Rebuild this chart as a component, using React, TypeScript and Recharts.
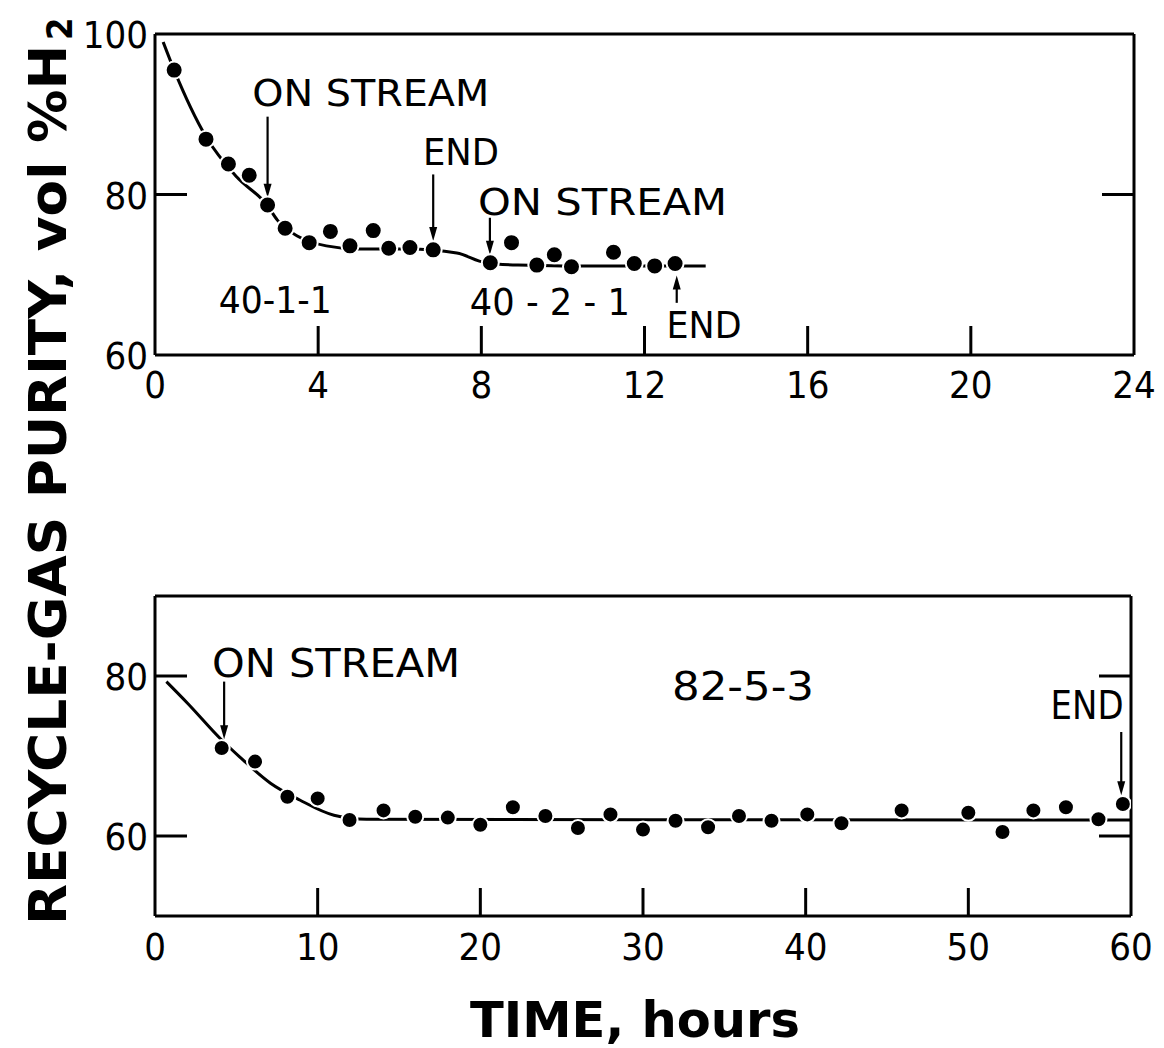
import React from "react"
import { ComposedChart, Line, Scatter, XAxis, YAxis, ReferenceLine, ReferenceDot } from "recharts"

const FONT = "'DejaVu Sans Condensed', 'DejaVu Sans', 'Liberation Sans', sans-serif"

// upper panel: runs 40-1-1 and 40-2-1 (hours, vol % H2)
const topTimes = [0.47, 1.25, 1.8, 2.31, 2.76, 3.19, 3.78, 4.3, 4.78, 5.35, 5.73, 6.25, 6.82, 8.22, 8.74, 9.36, 9.79, 10.21, 11.24, 11.75, 12.25, 12.75]
const topPurity = [95.5, 86.9, 83.8, 82.4, 78.7, 75.8, 74.0, 75.4, 73.6, 75.5, 73.3, 73.4, 73.1, 71.5, 74.0, 71.2, 72.5, 71.0, 72.8, 71.4, 71.1, 71.4]
const topFitTimes = [0.2, 0.47, 1.25, 2.0, 2.76, 3.0, 3.5, 4.2, 5.0, 6.2, 7.4, 8.1, 8.9, 10.0, 13.5]
const topFitPurity = [99, 95.5, 87.2, 82.2, 78.6, 76.8, 74.8, 73.6, 73.2, 73.2, 72.7, 71.5, 71.2, 71.1, 71.1]
const topXTicks = [0, 4, 8, 12, 16, 20, 24]
const topYTicks = [60, 80, 100]

// lower panel: run 82-5-3
const bottomTimes = [4.1, 6.15, 8.14, 10, 11.96, 14.05, 16, 18, 20, 22, 24, 26, 28, 30, 32, 34, 35.9, 37.9, 40.1, 42.2, 45.9, 50, 52.1, 54, 56, 58, 59.5]
const bottomPurity = [71.0, 69.3, 64.9, 64.7, 62.0, 63.2, 62.4, 62.3, 61.4, 63.6, 62.5, 61.0, 62.7, 60.8, 61.9, 61.1, 62.5, 61.9, 62.7, 61.6, 63.2, 62.9, 60.5, 63.2, 63.6, 62.1, 64.0]
const bottomFitTimes = [0.7, 2, 4.1, 5.2, 7.1, 8.9, 11, 13, 60]
const bottomFitPurity = [79.3, 76.6, 72.0, 69.9, 66.6, 64.5, 62.6, 62.1, 62.0]
const bottomXTicks = [0, 10, 20, 30, 40, 50, 60]
const bottomYTicks = [60, 80]

// annotations, in data units
const topNotes = [
  { text: "ON STREAM", t: 5.29, v: 91.0, w: 237 },
  { text: "END", t: 7.5, v: 83.7, w: 76 },
  { text: "ON STREAM", t: 10.97, v: 77.4, w: 249 },
  { text: "40-1-1", t: 2.95, v: 65.2, w: 113 },
  { text: "40 - 2 - 1", t: 9.68, v: 65.0, w: 160 },
  { text: "END", t: 13.46, v: 62.1, w: 75 },
]
const topArrows = [
  { t: 2.76, from: 89.7, to: 79.6 },
  { t: 6.82, from: 82.5, to: 74.2 },
  { t: 8.21, from: 77.1, to: 72.5 },
  { t: 12.79, from: 66.5, to: 69.9 },
]
const bottomNotes = [
  { text: "ON STREAM", t: 11.13, v: 79.9, w: 248 },
  { text: "82-5-3", t: 36.15, v: 77.0, w: 142 },
  { text: "END", t: 57.3, v: 74.6, w: 73 },
]
const bottomArrows = [
  { t: 4.25, from: 79.3, to: 72.1 },
  { t: 59.4, from: 73.0, to: 65.1 },
]

const zip = (ts: number[], vs: number[]) => ts.map((t, i) => ({ t, v: vs[i] }))

const bottomTick = (inner: number[], len: number, dy: number) => (p: any) => (
  <g>
    {inner.includes(p.payload.value) && (
      <line x1={p.x} y1={p.y} x2={p.x} y2={p.y - len} stroke="#000" strokeWidth={3} />
    )}
    <text x={p.x} y={p.y + dy} textAnchor="middle" fontFamily={FONT} fontSize={38} fill="#000">
      {p.payload.value}
    </text>
  </g>
)

const topTick = (inner: number[], len: number) => (p: any) =>
  inner.includes(p.payload.value) ? (
    <line x1={p.x} y1={p.y} x2={p.x} y2={p.y + len} stroke="#000" strokeWidth={3} />
  ) : (
    <g />
  )

const leftTick = (inner: number[], len: number) => (p: any) => (
  <g>
    {inner.includes(p.payload.value) && (
      <line x1={p.x} y1={p.y} x2={p.x + len} y2={p.y} stroke="#000" strokeWidth={3} />
    )}
    <text x={p.x - 7} y={p.y + 14} textAnchor="end" fontFamily={FONT} fontSize={38} fill="#000">
      {p.payload.value}
    </text>
  </g>
)

const rightTick = (inner: number[], len: number) => (p: any) =>
  inner.includes(p.payload.value) ? (
    <line x1={p.x} y1={p.y} x2={p.x - len} y2={p.y} stroke="#000" strokeWidth={3} />
  ) : (
    <g />
  )

const dot = (r: number) => (p: any) => <circle cx={p.cx} cy={p.cy} r={r} fill="#000" stroke="#fff" strokeWidth={2} />

const noteShape = (text: string, w: number, size: number) => (p: any) => (
  <text
    x={p.cx}
    y={p.cy}
    textAnchor="middle"
    fontFamily={FONT}
    fontSize={size}
    textLength={w}
    lengthAdjust="spacingAndGlyphs"
    fill="#000"
  >
    {text}
  </text>
)

const arrowShape = (p: any) => {
  const { x1, y1, x2, y2 } = p
  const dir = y2 > y1 ? 1 : -1
  return (
    <g>
      <line x1={x1} y1={y1} x2={x2} y2={y2 - dir * 8} stroke="#000" strokeWidth={2.2} />
      <polygon points={`${x2},${y2} ${x2 - 4},${y2 - dir * 14} ${x2 + 4},${y2 - dir * 14}`} fill="#000" />
    </g>
  )
}

const axisLine = { stroke: "#000", strokeWidth: 3 }

function Panel(props: {
  top: number
  height: number
  margin: { top: number; right: number; bottom: number; left: number }
  xDomain: [number, number]
  yDomain: [number, number]
  xTicks: number[]
  yTicks: number[]
  xInner: number[]
  yInner: number[]
  topLen: number
  bottomLen: number
  labelDy: number
  points: { t: number; v: number }[]
  fit: { t: number; v: number }[]
  notes: { text: string; t: number; v: number; w: number }[]
  arrows: { t: number; from: number; to: number }[]
  dotR: number
  noteSize: number
}) {
  return (
    <div style={{ position: "absolute", left: 0, top: props.top }}>
      <ComposedChart width={1164} height={props.height} margin={props.margin}>
        <XAxis
          dataKey="t"
          type="number"
          domain={props.xDomain}
          ticks={props.xTicks}
          interval={0}
          height={50}
          axisLine={axisLine}
          tickLine={false}
          tickSize={0}
          tickMargin={0}
          tick={bottomTick(props.xInner, props.bottomLen, props.labelDy)}
          allowDataOverflow
        />
        <XAxis
          xAxisId="top"
          orientation="top"
          type="number"
          domain={props.xDomain}
          ticks={props.xTicks}
          interval={0}
          height={4}
          axisLine={axisLine}
          tickLine={false}
          tickSize={0}
          tickMargin={0}
          tick={topTick(props.xInner, props.topLen)}
          allowDataOverflow
        />
        <YAxis
          dataKey="v"
          type="number"
          domain={props.yDomain}
          ticks={props.yTicks}
          interval={0}
          width={100}
          axisLine={axisLine}
          tickLine={false}
          tickSize={0}
          tickMargin={0}
          tick={leftTick(props.yInner, 32)}
          allowDataOverflow
        />
        <YAxis
          yAxisId="right"
          orientation="right"
          type="number"
          domain={props.yDomain}
          ticks={props.yTicks}
          interval={0}
          width={10}
          axisLine={axisLine}
          tickLine={false}
          tickSize={0}
          tickMargin={0}
          tick={rightTick(props.yInner, 32)}
          allowDataOverflow
        />
        <Line
          data={props.fit}
          dataKey="v"
          type="monotone"
          dot={false}
          stroke="#000"
          strokeWidth={3}
          isAnimationActive={false}
        />
        <Scatter data={props.points} dataKey="v" shape={dot(props.dotR)} isAnimationActive={false} />
        {props.arrows.map((a, i) => (
          <ReferenceLine
            key={"a" + i}
            segment={[
              { x: a.t, y: a.from },
              { x: a.t, y: a.to },
            ]}
            shape={arrowShape}
            ifOverflow="visible"
          />
        ))}
        {props.notes.map((n, i) => (
          <ReferenceDot
            key={"n" + i}
            x={n.t}
            y={n.v}
            r={0}
            shape={noteShape(n.text, n.w, props.noteSize)}
            ifOverflow="visible"
          />
        ))}
      </ComposedChart>
    </div>
  )
}

export default function App() {
  return (
    <div style={{ position: "absolute", left: 0, top: 0, width: 1164, height: 1048, background: "#fff" }}>
      <Panel
        top={0}
        height={420}
        margin={{ top: 30, right: 20, bottom: 15, left: 55 }}
        xDomain={[0, 24]}
        yDomain={[60, 100]}
        xTicks={topXTicks}
        yTicks={topYTicks}
        xInner={[4, 8, 12, 16, 20]}
        yInner={[80]}
        topLen={30}
        bottomLen={29}
        labelDy={43}
        points={zip(topTimes, topPurity)}
        fit={zip(topFitTimes, topFitPurity)}
        notes={topNotes}
        arrows={topArrows}
        dotR={8.5}
        noteSize={37}
      />
      <Panel
        top={540}
        height={440}
        margin={{ top: 52, right: 23, bottom: 14, left: 55 }}
        xDomain={[0, 60]}
        yDomain={[50, 90]}
        xTicks={bottomXTicks}
        yTicks={bottomYTicks}
        xInner={[10, 20, 30, 40, 50]}
        yInner={[60, 80]}
        topLen={27}
        bottomLen={28}
        labelDy={44}
        points={zip(bottomTimes, bottomPurity)}
        fit={zip(bottomFitTimes, bottomFitPurity)}
        notes={bottomNotes}
        arrows={bottomArrows}
        dotR={8}
        noteSize={39}
      />
      <svg
        width={1164}
        height={1048}
        style={{ position: "absolute", left: 0, top: 0, pointerEvents: "none" }}
      >
        <text
          x={635}
          y={1037}
          textAnchor="middle"
          fontFamily={FONT}
          fontWeight="bold"
          fontSize={50}
          textLength={330}
          lengthAdjust="spacingAndGlyphs"
          fill="#000"
        >
          TIME, hours
        </text>
        <text
          x={66}
          y={925}
          transform="rotate(-90, 66, 925)"
          fontFamily={FONT}
          fontWeight="bold"
          fontSize={52}
          textLength={880}
          lengthAdjust="spacingAndGlyphs"
          fill="#000"
        >
          RECYCLE-GAS PURITY, vol %H
        </text>
        <text
          x={72}
          y={40}
          transform="rotate(-90, 72, 40)"
          fontFamily={FONT}
          fontWeight="bold"
          fontSize={36}
          fill="#000"
        >
          2
        </text>
      </svg>
    </div>
  )
}
